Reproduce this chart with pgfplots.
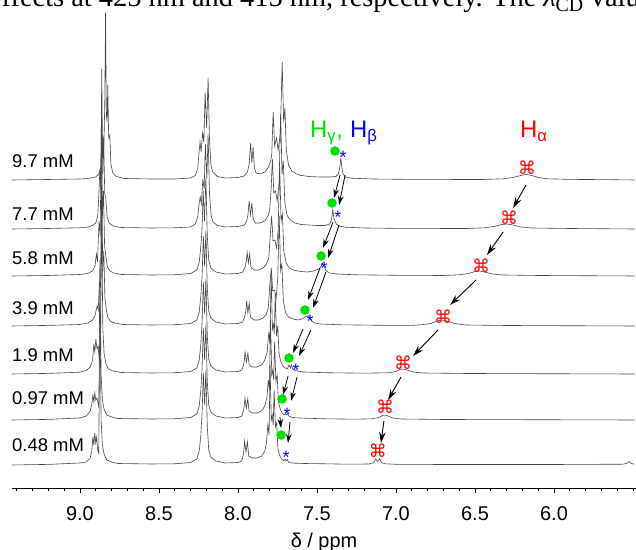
\documentclass[border=0pt]{standalone}
\usepackage{fontspec}
\setmainfont{Liberation Sans}
\newfontfamily\serifx{Liberation Serif}
\newfontfamily\dejavu{DejaVu Sans}
\usepackage{pgfplots}
\usepackage{pgfplotstable}
\pgfplotsset{compat=1.18}
\usetikzlibrary{arrows.meta}
\definecolor{hgreen}{RGB}{0,225,0}
\definecolor{hblue}{RGB}{0,0,255}
\definecolor{hred}{RGB}{255,0,0}

% spectra: d = shift (ppm), h = intensity above own baseline
% 9.7 mM
\pgfplotstableread{
d h
9.43 0
9.20 0.5
9.00 1
8.95 1.5
8.90 3
8.88 6
8.868 12
8.860 28
8.855 45
8.849 30
8.843 75
8.838 167
8.833 65
8.828 58
8.824 95
8.818 42
8.811 45
8.804 16
8.792 7
8.77 3.5
8.72 1.5
8.55 1
8.40 1
8.30 2
8.27 4.5
8.255 11
8.246 28
8.240 38
8.233 28
8.224 47
8.216 38
8.208 87
8.198 52
8.189 102
8.180 40
8.171 15
8.160 8
8.13 3.5
8.08 2
8.00 2.5
7.96 4
7.94 8
7.929 16
7.920 37
7.912 17
7.904 33
7.896 12
7.885 7
7.86 6
7.83 8
7.81 12
7.800 16
7.793 19
7.786 26
7.777 68
7.768 34
7.756 42
7.746 30
7.732 46
7.720 118
7.711 58
7.703 72
7.694 30
7.680 15
7.66 9
7.63 6
7.60 4.5
7.55 3.5
7.48 3
7.42 3
7.38 3.5
7.365 6
7.356 12
7.349 22
7.343 13
7.335 6
7.32 3
7.28 1.8
7.15 1
6.90 0.6
6.45 0.5
6.32 1.2
6.26 2.5
6.21 4.5
6.175 5.5
6.14 4.5
6.10 2.5
6.04 1.2
5.90 0.6
5.70 0.4
5.49 0
}\specA
% 7.7 mM
\pgfplotstableread{
d h
9.43 0
9.20 0.5
9.00 1.2
8.95 2
8.92 3.5
8.90 6
8.888 12
8.880 35
8.874 60
8.868 40
8.862 160
8.856 55
8.850 90
8.843 35
8.836 30
8.828 12
8.815 6
8.79 3
8.74 1.5
8.55 1
8.40 1.2
8.30 2
8.27 5
8.255 12
8.246 25
8.239 32
8.232 25
8.222 50
8.214 40
8.206 85
8.197 50
8.189 95
8.180 35
8.170 14
8.158 7
8.13 3.5
8.08 2
8.00 2.5
7.96 4
7.945 8
7.937 14
7.929 28
7.921 14
7.912 26
7.904 10
7.89 6
7.86 6
7.83 8
7.81 13
7.800 18
7.790 40
7.782 70
7.773 36
7.762 38
7.752 28
7.740 45
7.730 115
7.721 55
7.713 68
7.704 28
7.69 14
7.67 9
7.64 6
7.60 4.5
7.55 4
7.50 3.5
7.45 3.5
7.42 5
7.408 9
7.400 19
7.393 11
7.386 8
7.378 5
7.36 3
7.32 1.8
7.20 1
6.95 0.6
6.55 0.5
6.44 1.2
6.38 2.5
6.33 4.5
6.295 5
6.26 4
6.21 2
6.14 1
5.90 0.5
5.49 0
}\specB
% 5.8 mM
\pgfplotstableread{
d h
9.43 0
9.20 0.5
9.00 1.5
8.95 2.5
8.92 5
8.905 10
8.896 22
8.889 14
8.879 55
8.872 40
8.864 160
8.858 60
8.851 85
8.844 30
8.836 20
8.826 9
8.81 5
8.785 3
8.74 1.5
8.55 1
8.40 1.2
8.30 2.5
8.26 6
8.245 14
8.236 28
8.228 45
8.220 85
8.212 55
8.203 98
8.194 40
8.185 16
8.172 8
8.14 4
8.08 2
8.00 2.5
7.97 4
7.955 9
7.948 14
7.942 24
7.934 13
7.926 22
7.918 9
7.90 6
7.87 6
7.84 8
7.82 12
7.805 18
7.795 42
7.787 60
7.778 35
7.766 36
7.756 28
7.746 45
7.736 110
7.727 55
7.719 62
7.710 25
7.695 13
7.675 8
7.64 5.5
7.60 4.5
7.56 4
7.52 5
7.49 7
7.475 9
7.466 13
7.459 10
7.450 8
7.44 5
7.42 3
7.38 2
7.25 1.2
7.00 0.7
6.70 0.5
6.60 1.2
6.54 2.5
6.50 4.5
6.47 5
6.44 4
6.39 2
6.32 1
6.10 0.5
5.49 0
}\specC
% 3.9 mM
\pgfplotstableread{
d h
9.43 0
9.20 0.6
9.00 1.5
8.95 3
8.92 6
8.905 10
8.897 16
8.891 20
8.884 16
8.877 45
8.870 38
8.862 160
8.856 55
8.849 75
8.842 28
8.833 16
8.822 8
8.805 4.5
8.78 3
8.73 1.5
8.55 1
8.40 1.2
8.30 2.5
8.26 6
8.245 14
8.235 30
8.227 50
8.219 90
8.211 60
8.203 95
8.194 38
8.185 15
8.172 8
8.14 4
8.08 2
8.00 2.5
7.97 4
7.958 9
7.951 14
7.945 25
7.937 13
7.929 23
7.921 9
7.90 6
7.87 6
7.84 8
7.82 12
7.808 18
7.798 42
7.789 58
7.780 35
7.768 36
7.758 28
7.748 48
7.739 110
7.730 55
7.722 62
7.713 25
7.698 13
7.680 9
7.65 7
7.62 6
7.595 7
7.575 9
7.562 10
7.553 10
7.545 8
7.535 5
7.515 3
7.48 2
7.35 1.2
7.10 0.7
6.90 0.6
6.84 1.2
6.78 2.5
6.74 5
6.71 6
6.68 5
6.63 2.5
6.56 1
6.30 0.5
5.49 0
}\specD
% 1.9 mM
\pgfplotstableread{
d h
9.43 0
9.20 0.6
9.00 1.8
8.96 3.5
8.935 7
8.920 14
8.912 30
8.906 22
8.899 35
8.892 25
8.885 28
8.878 15
8.870 20
8.863 160
8.855 45
8.847 20
8.835 10
8.82 5
8.79 3
8.74 1.5
8.55 1
8.40 1.2
8.30 2.5
8.26 6
8.245 14
8.235 30
8.227 52
8.219 92
8.211 60
8.203 95
8.194 38
8.185 15
8.172 8
8.14 4
8.08 2
8.00 2.5
7.975 4
7.965 9
7.960 13
7.955 22
7.946 12
7.937 21
7.929 9
7.91 7
7.88 7
7.85 9
7.83 14
7.815 22
7.805 42
7.798 30
7.790 100
7.782 45
7.776 50
7.770 40
7.764 80
7.756 38
7.748 48
7.740 20
7.728 12
7.715 8
7.700 6
7.688 5
7.677 9
7.669 6
7.662 9
7.655 5.5
7.645 4
7.62 2.8
7.58 2
7.45 1.3
7.20 0.8
7.05 1.2
7.00 2.5
6.975 4.5
6.955 5
6.93 4
6.89 2
6.83 1
6.55 0.5
5.49 0
}\specE
% 0.97 mM
\pgfplotstableread{
d h
9.43 0
9.20 0.6
9.00 2
8.96 4
8.935 9
8.925 16
8.918 25
8.912 18
8.906 27
8.900 20
8.893 22
8.886 18
8.880 12
8.874 160
8.866 45
8.858 20
8.846 10
8.83 5
8.80 3
8.76 1.5
8.55 1
8.40 1.2
8.30 2.5
8.26 6
8.245 14
8.235 30
8.227 52
8.219 92
8.211 60
8.203 95
8.194 38
8.185 15
8.172 8
8.14 4
8.08 2
8.00 2.5
7.975 4
7.966 9
7.961 13
7.956 22
7.947 12
7.938 21
7.930 9
7.91 7
7.88 7
7.85 9
7.83 14
7.817 22
7.808 40
7.801 30
7.794 100
7.786 45
7.780 50
7.774 40
7.768 78
7.760 38
7.752 45
7.744 18
7.732 11
7.720 7
7.708 5
7.700 6.5
7.693 5
7.686 6.5
7.678 4
7.665 3
7.64 2.2
7.58 1.8
7.45 1.2
7.25 0.8
7.15 1.2
7.11 2.5
7.085 4.5
7.068 5
7.05 4
7.02 2
6.97 1
6.70 0.5
5.49 0
}\specF
% 0.48 mM
\pgfplotstableread{
d h
9.43 0
9.20 0.6
9.00 2
8.96 3
8.935 7
8.925 14
8.918 28
8.912 20
8.906 32
8.900 22
8.894 28
8.888 15
8.881 12
8.874 160
8.866 45
8.858 20
8.846 10
8.83 5
8.80 3
8.76 1.5
8.55 1
8.40 1.2
8.30 2.5
8.26 6
8.245 14
8.235 30
8.227 52
8.219 92
8.211 60
8.203 95
8.194 38
8.185 15
8.172 8
8.14 4
8.08 2
8.00 2.5
7.977 4
7.968 9
7.963 14
7.958 24
7.949 13
7.940 23
7.932 9
7.91 7
7.88 7
7.85 9
7.83 14
7.820 22
7.811 40
7.803 30
7.797 100
7.789 45
7.783 50
7.777 40
7.771 75
7.763 38
7.755 42
7.747 16
7.735 9
7.725 6
7.716 5.5
7.709 4
7.702 6
7.695 4
7.688 5.5
7.680 3
7.668 2.2
7.64 1.8
7.58 1.5
7.45 1.2
7.30 0.8
7.17 1
7.14 2.5
7.128 6
7.118 3.5
7.104 6
7.092 2.5
7.07 1.2
7.00 0.7
6.70 0.5
6.00 0.5
5.56 0.8
5.535 2
5.525 3.5
5.515 2
5.50 1
5.49 0.8
}\specG

\tikzset{
  spec/.style={line width=0.6bp, black!72, no markers},
  arr/.style={-{Stealth[length=11bp, width=6.5bp]}, line width=0.9bp, black},
  arrs/.style={-{Stealth[length=9bp, width=5.5bp]}, line width=0.8bp, black},
  lab/.style={anchor=base west, inner sep=0pt, font=\fontsize{18.5}{20}\selectfont},
  hlab/.style={anchor=base west, inner sep=0pt, font=\fontsize{24}{26}\selectfont},
}

\begin{document}
\begin{tikzpicture}
\begin{axis}[
  scale only axis, width=624bp, height=488bp,
  x dir=reverse, xmin=5.481, xmax=9.43, ymin=0, ymax=488,
  axis x line*=bottom, axis y line=none, ytick=\empty,
  xtick={6.0,6.5,...,9.0}, minor xtick={5.5,5.6,...,9.45},
  tick align=outside, major tick length=5bp, minor tick length=3bp,
  every tick/.style={black, line width=0.8bp},
  axis line style={line width=0.8bp},
  /pgf/number format/assume math mode=true,
  xticklabel style={font=\fontsize{20}{22}\selectfont, yshift=-10bp,
    /pgf/number format/.cd, fixed, fixed zerofill, precision=1},
  xlabel={δ / ppm}, xlabel style={font=\fontsize{20}{22}\selectfont, yshift=-6bp},
  clip=false,
]
\addplot[spec] table[x=d, y expr=\thisrow{h}+23]  {\specG};
\addplot[spec] table[x=d, y expr=\thisrow{h}+68]  {\specF};
\addplot[spec] table[x=d, y expr=\thisrow{h}+114] {\specE};
\addplot[spec] table[x=d, y expr=\thisrow{h}+162] {\specD};
\addplot[spec] table[x=d, y expr=\thisrow{h}+212] {\specC};
\addplot[spec] table[x=d, y expr=\thisrow{h}+259] {\specB};
\addplot[spec] table[x=d, y expr=\thisrow{h}+308] {\specA};

% H gamma (green), H beta (blue), H alpha (red)
\addplot[only marks, mark=*, mark size=4.5bp, color=hgreen]
  coordinates {(7.386,337)(7.405,285)(7.474,232)(7.576,178)(7.677,130)(7.721,89)(7.727,53)};
\addplot[only marks, mark=text, text mark={*}, text mark as node=true,
  text mark style={font=\fontsize{18}{18}\selectfont, text=hblue, anchor=base, yshift=-10bp, inner sep=0pt}]
  coordinates {(7.335,334)(7.367,274)(7.455,223)(7.544,170)(7.633,121)(7.689,77)(7.696,34)};
\addplot[only marks, mark=text, text mark={\dejavu ⌘}, text mark as node=true,
  text mark style={font=\fontsize{18}{18}\selectfont, text=hred, inner sep=0pt}]
  coordinates {(6.171,320)(6.284,270)(6.462,222)(6.702,171)(6.955,125)(7.069,81)(7.114,37)};

% arrows
\draw[arr] (axis cs:6.177,303) -- (axis cs:6.259,280);
\draw[arr] (axis cs:6.322,256) -- (axis cs:6.424,233);
\draw[arr] (axis cs:6.493,208) -- (axis cs:6.658,183);
\draw[arr] (axis cs:6.734,158) -- (axis cs:6.892,132);
\draw[arr] (axis cs:6.968,111) -- (axis cs:7.050,88);
\draw[arr] (axis cs:7.076,67) -- (axis cs:7.095,45);
\draw[arrs] (axis cs:7.354,313) -- (axis cs:7.392,290);
\draw[arrs] (axis cs:7.322,313) -- (axis cs:7.360,283);
\draw[arrs] (axis cs:7.398,266) -- (axis cs:7.462,240);
\draw[arrs] (axis cs:7.360,263) -- (axis cs:7.430,230);
\draw[arrs] (axis cs:7.481,220) -- (axis cs:7.557,188);
\draw[arrs] (axis cs:7.443,216) -- (axis cs:7.525,180);
\draw[arrs] (axis cs:7.588,159) -- (axis cs:7.652,135);
\draw[arrs] (axis cs:7.538,158) -- (axis cs:7.614,132);
\draw[arrs] (axis cs:7.683,112) -- (axis cs:7.715,93);
\draw[arrs] (axis cs:7.626,111) -- (axis cs:7.664,87);
\draw[arrs] (axis cs:7.734,71) -- (axis cs:7.727,60);
\draw[arrs] (axis cs:7.671,66) -- (axis cs:7.683,45);

% concentration labels
\node[lab] at (axis cs:9.43,320) {9.7 mM};
\node[lab] at (axis cs:9.43,267) {7.7 mM};
\node[lab] at (axis cs:9.43,223) {5.8 mM};
\node[lab] at (axis cs:9.43,173) {3.9 mM};
\node[lab] at (axis cs:9.43,126) {1.9 mM};
\node[lab] at (axis cs:9.43,83) {0.97 mM};
\node[lab] at (axis cs:9.43,36) {0.48 mM};

\node[hlab, text=hgreen] at (axis cs:7.544,350) {H\textsubscript{γ},};
\node[hlab, text=hblue] at (axis cs:7.291,350) {H\textsubscript{β}};
\node[hlab, text=hred] at (axis cs:6.215,350) {H\textsubscript{α}};

% running text of the page, cut by the top edge
\node[anchor=base west, inner sep=0pt, font=\serifx\fontsize{28.5}{30}\selectfont]
  at (axis cs:9.576,481) {effects at 425 nm and 415 nm, respectively. The {\itshape λ}\textsubscript{CD} value};

\coordinate (bbll) at (axis cs:9.506,-62);
\coordinate (bbur) at (axis cs:5.481,488);
\end{axis}
\pgfresetboundingbox
\useasboundingbox (bbll) rectangle (bbur);
\end{tikzpicture}
\end{document}
